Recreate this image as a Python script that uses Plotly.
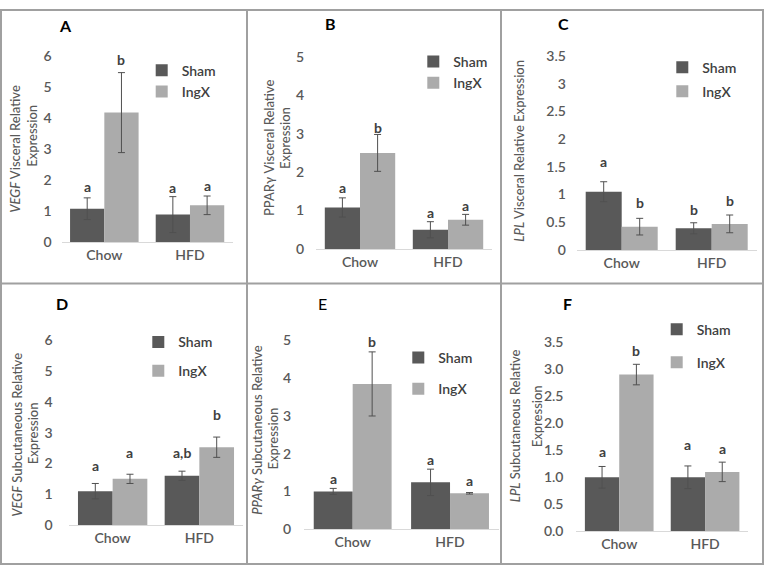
import plotly.graph_objects as go

# ---------------- data ----------------
categories = ["Chow", "HFD"]
series_names = ["Sham", "IngX"]

# A: VEGF visceral
vegf_visc_sham = [1.07, 0.88]
vegf_visc_sham_err = [0.35, 0.58]
vegf_visc_ingx = [4.17, 1.18]
vegf_visc_ingx_err = [1.29, 0.30]
vegf_visc_sham_sig = ["a", "a"]
vegf_visc_ingx_sig = ["b", "a"]
vegf_visc_sham_sig_y = [1.78, 1.77]
vegf_visc_ingx_sig_y = [5.87, 1.83]

# B: PPARg visceral
pparg_visc_sham = [1.08, 0.50]
pparg_visc_sham_err = [0.25, 0.21]
pparg_visc_ingx = [2.50, 0.76]
pparg_visc_ingx_err = [0.48, 0.14]
pparg_visc_sham_sig = ["a", "a"]
pparg_visc_ingx_sig = ["b", "a"]
pparg_visc_sham_sig_y = [1.59, 0.94]
pparg_visc_ingx_sig_y = [3.17, 1.14]

# C: LPL visceral
lpl_visc_sham = [1.05, 0.39]
lpl_visc_sham_err = [0.18, 0.10]
lpl_visc_ingx = [0.42, 0.47]
lpl_visc_ingx_err = [0.15, 0.16]
lpl_visc_sham_sig = ["a", "b"]
lpl_visc_ingx_sig = ["b", "b"]
lpl_visc_sham_sig_y = [1.60, 0.73]
lpl_visc_ingx_sig_y = [0.86, 0.885]

# D: VEGF subcutaneous
vegf_subq_sham = [1.10, 1.60]
vegf_subq_sham_err = [0.25, 0.15]
vegf_subq_ingx = [1.50, 2.53]
vegf_subq_ingx_err = [0.15, 0.33]
vegf_subq_sham_sig = ["a", "a,b"]
vegf_subq_ingx_sig = ["a", "b"]
vegf_subq_sham_sig_y = [1.93, 2.36]
vegf_subq_ingx_sig_y = [2.35, 3.61]

# E: PPARg subcutaneous
pparg_subq_sham = [1.00, 1.24]
pparg_subq_sham_err = [0.08, 0.35]
pparg_subq_ingx = [3.85, 0.95]
pparg_subq_ingx_err = [0.85, 0.02]
pparg_subq_sham_sig = ["a", "a"]
pparg_subq_ingx_sig = ["b", "a"]
pparg_subq_sham_sig_y = [1.33, 1.84]
pparg_subq_ingx_sig_y = [4.98, 1.28]

# F: LPL subcutaneous
lpl_subq_sham = [1.00, 1.00]
lpl_subq_sham_err = [0.20, 0.21]
lpl_subq_ingx = [2.90, 1.10]
lpl_subq_ingx_err = [0.19, 0.18]
lpl_subq_sham_sig = ["a", "a"]
lpl_subq_ingx_sig = ["b", "a"]
lpl_subq_sham_sig_y = [1.48, 1.60]
lpl_subq_ingx_sig_y = [3.35, 1.54]

panel_letters = ["A", "B", "C", "D", "E", "F"]
y_title_lines = [
    ["<i>VEGF</i> Visceral Relative", "Expression"],
    ["<span>PPARγ</span> Visceral Relative", "<span>Expression</span>"],
    ["<i>LPL</i> Visceral Relative Expression"],
    ["<i>VEGF</i> Subcutaneous Relative", "Expression"],
    ["<i>PPARγ</i> Subcutaneous Relative", "Expression"],
    ["<i>LPL</i> Subcutaneous Relative", "Expression"],
]
y_max = [6, 5, 3.5, 6, 5, 3.5]
y_dtick = [1, 1, 0.5, 1, 1, 0.5]
y_tickformat = ["", "", "", "", "", ".1f"]

panel_data = [
    (vegf_visc_sham, vegf_visc_sham_err, vegf_visc_ingx, vegf_visc_ingx_err,
     vegf_visc_sham_sig, vegf_visc_ingx_sig, vegf_visc_sham_sig_y, vegf_visc_ingx_sig_y),
    (pparg_visc_sham, pparg_visc_sham_err, pparg_visc_ingx, pparg_visc_ingx_err,
     pparg_visc_sham_sig, pparg_visc_ingx_sig, pparg_visc_sham_sig_y, pparg_visc_ingx_sig_y),
    (lpl_visc_sham, lpl_visc_sham_err, lpl_visc_ingx, lpl_visc_ingx_err,
     lpl_visc_sham_sig, lpl_visc_ingx_sig, lpl_visc_sham_sig_y, lpl_visc_ingx_sig_y),
    (vegf_subq_sham, vegf_subq_sham_err, vegf_subq_ingx, vegf_subq_ingx_err,
     vegf_subq_sham_sig, vegf_subq_ingx_sig, vegf_subq_sham_sig_y, vegf_subq_ingx_sig_y),
    (pparg_subq_sham, pparg_subq_sham_err, pparg_subq_ingx, pparg_subq_ingx_err,
     pparg_subq_sham_sig, pparg_subq_ingx_sig, pparg_subq_sham_sig_y, pparg_subq_ingx_sig_y),
    (lpl_subq_sham, lpl_subq_sham_err, lpl_subq_ingx, lpl_subq_ingx_err,
     lpl_subq_sham_sig, lpl_subq_ingx_sig, lpl_subq_sham_sig_y, lpl_subq_ingx_sig_y),
]

# ---------------- layout geometry (pixels) ----------------
W, H = 765, 574
plot_x = [(61.5, 232.8), (316, 492), (576.7, 756.7), (69.3, 242.7), (304, 498.7), (576.3, 748)]
plot_y = [(48.3, 240), (49.3, 247.3), (48.3, 248.3), (341.7, 531.7), (341.7, 536), (343.3, 538.3)]
ytick_len = [6, 8, 7, 13, 9, 9]
letter_pos = [(65, 17), (330, 15), (563, 15), (62, 304), (322, 304), (567, 304)]
letter_bold = [True, True, True, True, False, True]
ytitle_line_pos = [
    [(15, 144), (31.7, 131)],
    [(268.3, 143), (285, 133)],
    [(519, 146)],
    [(16.7, 439), (33.3, 437)],
    [(256.7, 434), (272.7, 443)],
    [(515, 430), (536.7, 420)],
]
legend_sq = [(171.7, 68, 19.3), (443.3, 59, 20), (692.3, 65, 22.7),
             (168.3, 341, 27.7), (428.3, 357, 30), (686.7, 328, 31.7)]
legend_off = [21, 21, 21, 14, 14, 14]

SHAM_C = "#595959"
INGX_C = "#ababab"
FONT = "Lato"
TXT = "#595959"


def px_x(v):
    return v / W


def px_y(v):
    return 1 - v / H


fig = go.Figure()
layout = dict(
    width=W, height=H, margin=dict(l=0, r=0, t=0, b=0, pad=0),
    paper_bgcolor="white", plot_bgcolor="white",
    barmode="group", bargap=0.2, bargroupgap=0,
    font=dict(family=FONT, size=13, color=TXT),
    showlegend=True,
)
annotations = []

for i in range(6):
    n = "" if i == 0 else str(i + 1)
    xa, ya = "x" + n, "y" + n
    lg = "legend" + n
    sham, sham_e, ingx, ingx_e, s_sig, i_sig, s_sig_y, i_sig_y = panel_data[i]
    for name, vals, errs, col in ((series_names[0], sham, sham_e, SHAM_C),
                                  (series_names[1], ingx, ingx_e, INGX_C)):
        fig.add_trace(go.Bar(
            x=categories, y=vals, name=name, marker=dict(color=col, line=dict(width=0)),
            error_y=dict(type="data", array=errs, visible=True, color="#505050",
                         thickness=1, width=3.5),
            xaxis=xa, yaxis=ya, legend=lg, legendgroup=f"{i}_{name}",
            offsetgroup=name,
        ))
    layout["xaxis" + n] = dict(
        domain=[px_x(plot_x[i][0]), px_x(plot_x[i][1])], anchor=ya,
        type="category", range=[-0.5, 1.5], showline=True, linecolor="#d9d9d9",
        linewidth=1, ticks="", showgrid=False, zeroline=False,
        tickfont=dict(family=FONT, size=14, color=TXT, weight=600),
    )
    layout["yaxis" + n] = dict(
        domain=[px_y(plot_y[i][1]), px_y(plot_y[i][0])], anchor=xa,
        range=[0, y_max[i]], dtick=y_dtick[i], tick0=0, showgrid=False,
        zeroline=False, showline=False, ticks="outside", ticklen=ytick_len[i],
        tickcolor="rgba(0,0,0,0)",
        tickformat=y_tickformat[i],
        tickfont=dict(family=FONT, size=14, color=TXT, weight=600),
    )
    sx, sy, sp = legend_sq[i]
    layout[lg] = dict(
        x=px_x(sx - 30), y=px_y(sy - legend_off[i]), xanchor="left", yanchor="top",
        bgcolor="rgba(0,0,0,0)", font=dict(family=FONT, size=14, color="#404040", weight=600),
        traceorder="grouped", tracegroupgap=max(sp - 20, 0),
    )
    # significance letters
    for j, cat in enumerate(categories):
        for sig, sy_v, off in ((s_sig, s_sig_y, -0.2), (i_sig, i_sig_y, 0.2)):
            annotations.append(dict(
                x=j + off, y=sy_v[j], xref=xa, yref=ya, text=f"<b>{sig[j]}</b>",
                showarrow=False, xanchor="center", yanchor="middle",
                font=dict(family=FONT, size=14, color="#404040"),
            ))
    # panel letter
    lx, ly = letter_pos[i]
    txt = f"<b>{panel_letters[i]}</b>" if letter_bold[i] else panel_letters[i]
    annotations.append(dict(
        x=px_x(lx), y=px_y(ly), xref="paper", yref="paper", text=txt, showarrow=False,
        xanchor="center", yanchor="middle", font=dict(family=FONT, size=16, color="#000000"),
    ))
    # y title (one annotation per line)
    for line_txt, (tx, ty) in zip(y_title_lines[i], ytitle_line_pos[i]):
        annotations.append(dict(
            x=px_x(tx), y=px_y(ty), xref="paper", yref="paper", text=line_txt,
            showarrow=False, textangle=-90, xanchor="center", yanchor="middle",
            font=dict(family=FONT, size=13, color=TXT, weight=500),
        ))

line_c = "#a0a0a0"
shapes = [
    dict(type="rect", xref="paper", yref="paper", x0=px_x(1), x1=px_x(763),
         y0=px_y(572), y1=px_y(1), line=dict(color=line_c, width=2)),
    dict(type="line", xref="paper", yref="paper", x0=px_x(247), x1=px_x(247),
         y0=px_y(572), y1=px_y(1), line=dict(color=line_c, width=2)),
    dict(type="line", xref="paper", yref="paper", x0=px_x(501), x1=px_x(501),
         y0=px_y(572), y1=px_y(1), line=dict(color=line_c, width=2)),
    dict(type="line", xref="paper", yref="paper", x0=px_x(1), x1=px_x(763),
         y0=px_y(283), y1=px_y(283), line=dict(color=line_c, width=2)),
]
layout["annotations"] = annotations
layout["shapes"] = shapes
fig.update_layout(**layout)
fig.write_html(
    "out.html",
    config={"displayModeBar": False},
    post_script="document.body.style.margin='0';document.body.style.overflow='hidden';",
)
